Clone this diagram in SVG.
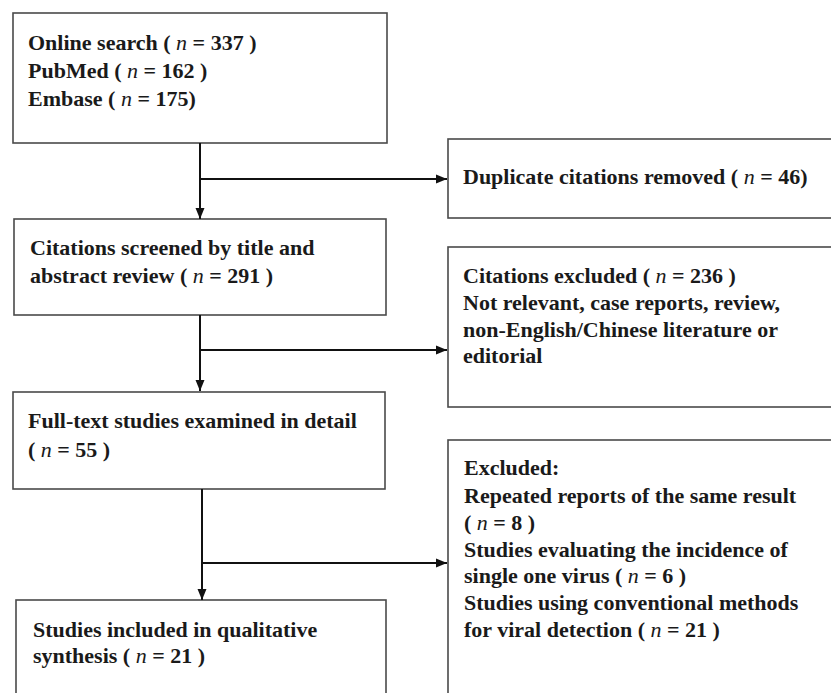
<svg xmlns="http://www.w3.org/2000/svg" width="831" height="693" viewBox="0 0 831 693">
<defs>
<marker id="ah" markerWidth="12" markerHeight="12" refX="11" refY="5.5" orient="auto" markerUnits="userSpaceOnUse">
<path d="M0,1 L11,5.5 L0,10 Z" fill="#111"/>
</marker>
<style>
.box{fill:#fff;stroke:#4a4a4a;stroke-width:1.6}
.t{font-family:"Liberation Serif","Times New Roman",serif;font-size:22px;font-weight:bold;fill:#1a1a1a}
.i{font-style:italic;font-weight:normal}
.c{stroke:#111;stroke-width:2;fill:none}
</style>
</defs>
<rect width="831" height="693" fill="#fff"/>
<g id="online-search">
<rect class="box" x="13" y="13" width="374" height="130"/>
<text class="t" x="28" y="50">Online search ( <tspan class="i">n</tspan> = 337 )</text>
<text class="t" x="28" y="78">PubMed ( <tspan class="i">n</tspan> = 162 )</text>
<text class="t" x="28" y="106">Embase ( <tspan class="i">n</tspan> = 175)</text>
</g>
<g id="screened">
<rect class="box" x="14" y="219" width="372" height="96"/>
<text class="t" x="30" y="255">Citations screened by title and</text>
<text class="t" x="30" y="283">abstract review ( <tspan class="i">n</tspan> = 291 )</text>
</g>
<g id="duplicates">
<rect class="box" x="448" y="139" width="400" height="79"/>
<text class="t" x="463" y="184">Duplicate citations removed ( <tspan class="i">n</tspan> = 46)</text>
</g>
<g id="excluded-citations">
<rect class="box" x="448" y="247" width="400" height="160"/>
<text class="t" x="463" y="283">Citations excluded ( <tspan class="i">n</tspan> = 236 )</text>
<text class="t" x="463" y="310">Not relevant, case reports, review,</text>
<text class="t" x="463" y="337">non-English/Chinese literature or</text>
<text class="t" x="463" y="363">editorial</text>
</g>
<g id="full-text">
<rect class="box" x="13" y="392" width="372" height="97"/>
<text class="t" x="28" y="428">Full-text studies examined in detail</text>
<text class="t" x="28" y="457">( <tspan class="i">n</tspan> = 55 )</text>
</g>
<g id="excluded">
<rect class="box" x="448" y="440" width="400" height="280"/>
<text class="t" x="464" y="475">Excluded:</text>
<text class="t" x="464" y="503">Repeated reports of the same result</text>
<text class="t" x="464" y="530">( <tspan class="i">n</tspan> = 8 )</text>
<text class="t" x="464" y="557">Studies evaluating the incidence of</text>
<text class="t" x="464" y="583">single one virus ( <tspan class="i">n</tspan> = 6 )</text>
<text class="t" x="464" y="610">Studies using conventional methods</text>
<text class="t" x="464" y="637">for viral detection ( <tspan class="i">n</tspan> = 21 )</text>
</g>
<g id="included">
<rect class="box" x="16" y="600" width="370" height="120"/>
<text class="t" x="33" y="637">Studies included in qualitative</text>
<text class="t" x="33" y="663">synthesis ( <tspan class="i">n</tspan> = 21 )</text>
</g>
<g id="connectors">
<line class="c" x1="200" y1="143" x2="200" y2="219" marker-end="url(#ah)"/>
<line class="c" x1="200" y1="179" x2="447" y2="179" marker-end="url(#ah)"/>
<line class="c" x1="200" y1="315" x2="200" y2="391" marker-end="url(#ah)"/>
<line class="c" x1="200" y1="350" x2="447" y2="350" marker-end="url(#ah)"/>
<line class="c" x1="202" y1="489" x2="202" y2="600" marker-end="url(#ah)"/>
<line class="c" x1="202" y1="563" x2="447" y2="563" marker-end="url(#ah)"/>
</g>
</svg>
